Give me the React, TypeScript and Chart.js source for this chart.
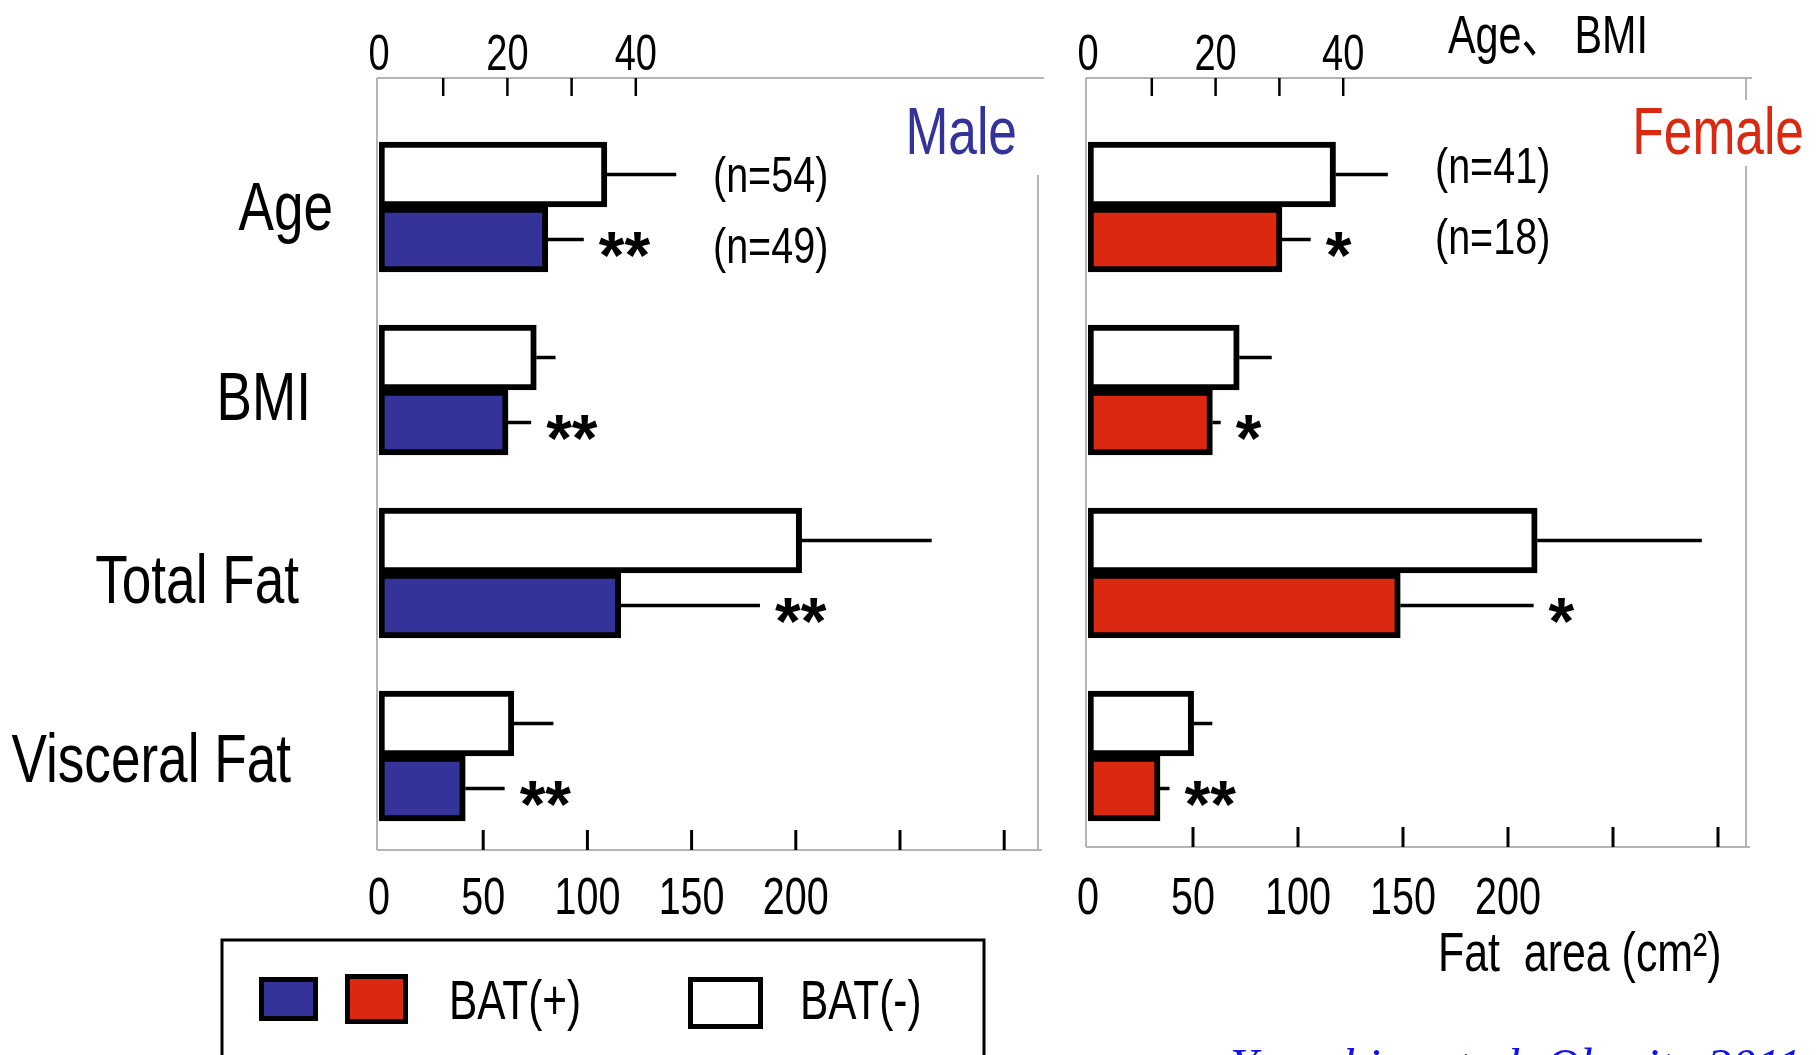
import React, { useEffect, useRef } from "react";
import { Chart, registerables } from "chart.js";
Chart.register(...registerables);

const W = 1819;
const H = 1055;

// ---------- data ----------
const categories = ["Age", "BMI", "Total Fat", "Visceral Fat"];
// Age & BMI are read on the top axis, fat areas (cm²) on the bottom axis
const categoryAxis = ["top", "top", "bottom", "bottom"];

const maleBatNeg = [35.5, 24.5, 202.8, 64.7];
const maleBatNegSD = [10.8, 3.0, 62.4, 19.0];
const maleBatPos = [26.3, 20.1, 116.0, 41.4];
const maleBatPosSD = [5.6, 3.6, 66.8, 18.9];
const maleSig = ["**", "**", "**", "**"];
const maleN = ["(n=54)", "(n=49)"];

const femaleBatNeg = [38.8, 23.7, 213.9, 50.3];
const femaleBatNegSD = [8.2, 5.1, 78.4, 8.9];
const femaleBatPos = [30.4, 19.5, 148.7, 34.3];
const femaleBatPosSD = [4.5, 1.3, 63.5, 4.5];
const femaleSig = ["*", "*", "*", "**"];
const femaleN = ["(n=41)", "(n=18)"];

const topTickValues = [10, 20, 30, 40];
const topTickLabels = [0, 20, 40];
const bottomTickValues = [50, 100, 150, 200, 250, 300];
const bottomTickLabels = [0, 50, 100, 150, 200];

const legendPosLabel = "BAT(+)";
const legendNegLabel = "BAT(-)";
const topAxisTitle = "Age\u3001 BMI";
const bottomAxisTitle = "Fat  area (cm\u00B2)";
const citation = "Yoneshiro et al. Obesity 2011";

const MALE_COLOR = "#333399";
const FEMALE_COLOR = "#db2911";
const SANS = "'Liberation Sans', 'Noto Sans CJK JP', Arial, sans-serif";
const SERIF = "'Liberation Serif', 'Times New Roman', serif";

// ---------- layout ----------
const CAT0 = 207;
const CAT_STEP = 183;

const MALE_PANEL = {
  key: "male", left: 379, right: 1038, top: 78, bottom: 850,
  topUnit: 6.42, botUnit: 2.084, title: "Male", titleColor: MALE_COLOR,
  titleRight: 1017, nX: 713, nOffsets: [17, 23],
};
const FEMALE_PANEL = {
  key: "female", left: 1088, right: 1746, top: 78, bottom: 847,
  topUnit: 6.38, botUnit: 2.1, title: "Female", titleColor: FEMALE_COLOR,
  titleRight: 1804, nX: 1435, nOffsets: [8, 14],
};

function txt(ctx: CanvasRenderingContext2D, s: string, x: number, y: number, o: any) {
  const { size, color = "#000", align = "left", weight = "normal", sx = 0.77, family = SANS, style = "normal" } = o;
  ctx.save();
  ctx.font = `${style} ${weight} ${size}px ${family}`;
  ctx.fillStyle = color;
  ctx.textAlign = align;
  ctx.textBaseline = "alphabetic";
  ctx.translate(x, y);
  ctx.scale(sx, 1);
  ctx.fillText(s, 0, 0);
  ctx.restore();
}

function line(ctx: CanvasRenderingContext2D, x0: number, y0: number, x1: number, y1: number, w: number, c: string) {
  ctx.save();
  ctx.strokeStyle = c;
  ctx.lineWidth = w;
  ctx.lineCap = "butt";
  ctx.beginPath();
  ctx.moveTo(x0, y0);
  ctx.lineTo(x1, y1);
  ctx.stroke();
  ctx.restore();
}

function makeDatasets(neg: number[], negSD: number[], pos: number[], posSD: number[], posColor: string, sig: string[]) {
  const groups: any[] = [
    ["neg", neg, negSD, "#ffffff", legendNegLabel],
    ["pos", pos, posSD, posColor, legendPosLabel],
  ];
  const sets: any[] = [];
  for (const [group, vals, sds, color, label] of groups) {
    for (const axis of ["top", "bottom"]) {
      const idx = categories.map((_, i) => i).filter((i) => categoryAxis[i] === axis);
      sets.push({
        label,
        stack: group,
        xAxisID: axis === "top" ? "xTop" : "xBot",
        yAxisID: "y",
        data: idx.map((i) => ({ x: vals[i], y: i })),
        errors: idx.map((i) => sds[i]),
        sig: idx.map((i) => (group === "pos" ? sig[i] : "")),
        nIndex: axis === "top" && group === "neg" ? 0 : axis === "top" ? 1 : -1,
        backgroundColor: color,
        borderColor: "#000000",
        borderWidth: 6,
        borderSkipped: false,
        barThickness: 65,
      });
    }
  }
  return sets;
}

function panelPlugin(p: any, nLabels: string[]) {
  return {
    id: "panel-" + p.key,
    beforeDraw(chart: any) {
      const ctx = chart.ctx;
      if (p.key === "male") {
        ctx.save();
        ctx.fillStyle = "#ffffff";
        ctx.fillRect(0, 0, W, H);
        ctx.restore();
      }
    },
    beforeDatasetsDraw(chart: any) {
      const ctx = chart.ctx;
      const g = "#b4b4b4";
      line(ctx, p.left - 2, p.top, p.right + 6, p.top, 2, g);
      line(ctx, p.left - 2, p.top, p.left - 2, p.bottom, 2, g);
      line(ctx, p.right, p.key === "male" ? 175 : p.top, p.right, p.bottom, 2, g);
      line(ctx, p.left - 2, p.bottom, p.right + 4, p.bottom, 2, g);
    },
    afterDatasetsDraw(chart: any) {
      const ctx = chart.ctx;
      chart.data.datasets.forEach((ds: any, di: number) => {
        const meta = chart.getDatasetMeta(di);
        const xs = chart.scales[ds.xAxisID];
        meta.data.forEach((bar: any, j: number) => {
          const { x, y } = bar.getProps(["x", "y"], true);
          const x1 = xs.getPixelForValue(ds.data[j].x + ds.errors[j]);
          line(ctx, x, y, x1, y, 3.5, "#000");
          if (ds.sig[j]) txt(ctx, ds.sig[j], x1 + 15, y + 38, { size: 66, weight: "bold", sx: 1 });
          if (ds.nIndex >= 0 && j === 0) {
            txt(ctx, nLabels[ds.nIndex], p.nX, y + p.nOffsets[ds.nIndex], { size: 50, sx: 0.79 });
          }
        });
      });
    },
    afterDraw(chart: any) {
      const ctx = chart.ctx;
      const xTop = chart.scales.xTop;
      const xBot = chart.scales.xBot;
      const yS = chart.scales.y;
      // inside tick marks
      topTickValues.forEach((v) => {
        const x = xTop.getPixelForValue(v);
        line(ctx, x, p.top, x, p.top + 18, 2.5, "#000");
      });
      bottomTickValues.forEach((v) => {
        const x = xBot.getPixelForValue(v);
        line(ctx, x, p.bottom - 20, x, p.bottom, 3, "#000");
      });
      topTickLabels.forEach((v) => {
        txt(ctx, String(v), xTop.getPixelForValue(v), 70, { size: 50, sx: 0.76, align: "center" });
      });
      bottomTickLabels.forEach((v) => {
        txt(ctx, String(v), xBot.getPixelForValue(v), 914, { size: 52, sx: 0.76, align: "center" });
      });
      // panel title
      if (p.key === "female") {
        ctx.save();
        ctx.fillStyle = "#ffffff";
        ctx.fillRect(1625, 100, 190, 66);
        ctx.restore();
      }
      txt(ctx, p.title, p.titleRight, 154, { size: 66, sx: 0.78, align: "right", color: p.titleColor });

      if (p.key === "male") {
        // category labels
        const labelRight = [333, 311, 299, 291];
        const labelDy = [23, 30, 30, 26];
        categories.forEach((c, i) => {
          txt(ctx, c, labelRight[i], yS.getPixelForValue(i) + labelDy[i], { size: 69, sx: 0.77, align: "right" });
        });
        // legend
        ctx.save();
        ctx.strokeStyle = "#000";
        ctx.lineWidth = 3;
        ctx.strokeRect(222, 940, 762, 200);
        const sw = (x: number, y: number, w: number, h: number, fill: string) => {
          ctx.fillStyle = fill;
          ctx.fillRect(x, y, w, h);
          ctx.lineWidth = 5;
          ctx.strokeStyle = "#000";
          ctx.strokeRect(x + 2.5, y + 2.5, w - 5, h - 5);
        };
        sw(259, 977, 59, 44, MALE_COLOR);
        sw(345, 974, 63, 50, FEMALE_COLOR);
        sw(688, 977, 75, 52, "#ffffff");
        ctx.restore();
        txt(ctx, legendPosLabel, 449, 1019, { size: 55, sx: 0.77 });
        txt(ctx, legendNegLabel, 800, 1019, { size: 55, sx: 0.77 });
      } else {
        txt(ctx, topAxisTitle, 1448, 53, { size: 53, sx: 0.78 });
        txt(ctx, bottomAxisTitle, 1438, 971, { size: 55, sx: 0.78 });
        txt(ctx, citation, 1230, 1082, { size: 49, sx: 1, family: SERIF, style: "italic", color: "#1010f0" });
      }
    },
  };
}

function makeConfig(p: any, datasets: any[], nLabels: string[]): any {
  return {
    type: "bar",
    data: { datasets },
    options: {
      indexAxis: "y",
      responsive: false,
      animation: false,
      events: [],
      layout: { padding: { left: p.left, right: W - p.right, top: p.top, bottom: H - p.bottom } },
      plugins: { legend: { display: false }, tooltip: { enabled: false } },
      scales: {
        y: {
          type: "linear",
          reverse: true,
          offset: false,
          min: (p.top - CAT0) / CAT_STEP,
          max: (p.bottom - CAT0) / CAT_STEP,
          display: false,
          ticks: { stepSize: 1, includeBounds: false },
        },
        xTop: {
          type: "linear", axis: "x", position: "top", display: false, stacked: false,
          min: 0, max: (p.right - p.left) / p.topUnit,
        },
        xBot: {
          type: "linear", axis: "x", position: "bottom", display: false, stacked: false,
          min: 0, max: (p.right - p.left) / p.botUnit,
        },
      },
    },
    plugins: [panelPlugin(p, nLabels)],
  };
}

export default function App() {
  const maleRef = useRef<HTMLCanvasElement>(null);
  const femaleRef = useRef<HTMLCanvasElement>(null);

  useEffect(() => {
    const charts: Chart[] = [];
    if (maleRef.current) {
      charts.push(
        new Chart(
          maleRef.current,
          makeConfig(MALE_PANEL, makeDatasets(maleBatNeg, maleBatNegSD, maleBatPos, maleBatPosSD, MALE_COLOR, maleSig), maleN)
        )
      );
    }
    if (femaleRef.current) {
      charts.push(
        new Chart(
          femaleRef.current,
          makeConfig(FEMALE_PANEL, makeDatasets(femaleBatNeg, femaleBatNegSD, femaleBatPos, femaleBatPosSD, FEMALE_COLOR, femaleSig), femaleN)
        )
      );
    }
    return () => charts.forEach((c) => c.destroy());
  }, []);

  const cs: React.CSSProperties = { position: "absolute", left: 0, top: 0, width: W, height: H };
  return (
    <div style={{ position: "fixed", left: 0, top: 0, width: W, height: H, background: "#fff", overflow: "hidden" }}>
      <canvas ref={maleRef} width={W} height={H} style={cs} />
      <canvas ref={femaleRef} width={W} height={H} style={cs} />
    </div>
  );
}
